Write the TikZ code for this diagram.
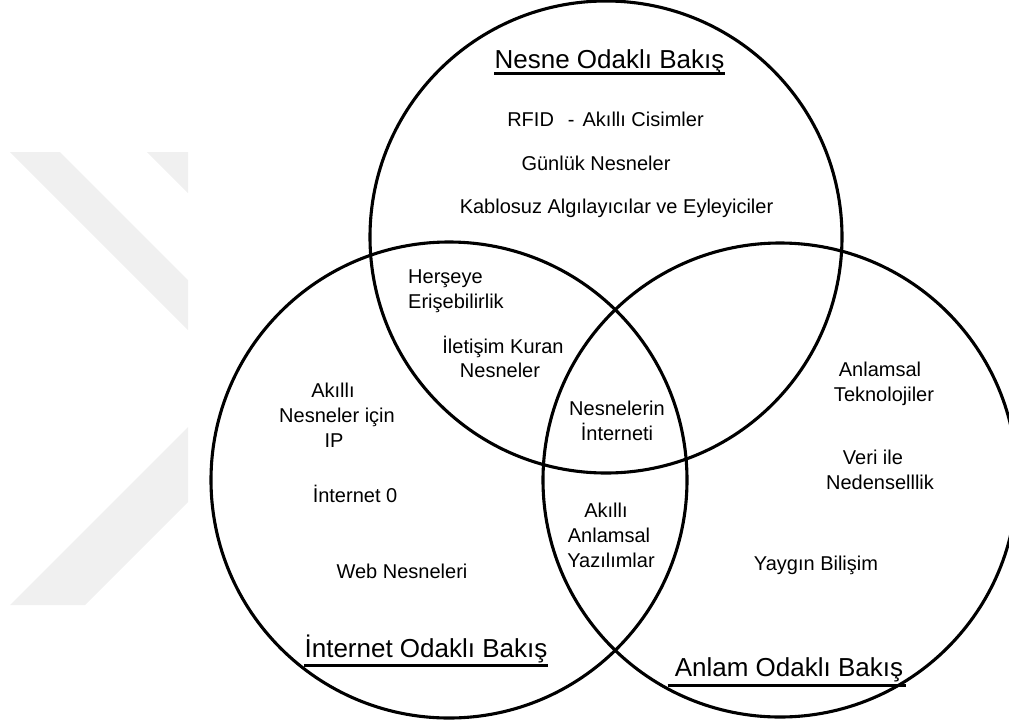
\documentclass[tikz,border=0pt]{standalone}
\usepackage{fontspec}
\setmainfont{Liberation Sans}
\begin{document}
\begin{tikzpicture}[x=1pt,y=-1pt,
  venn/.style={circle,draw=black,line width=3.1pt,minimum size=#1,inner sep=0pt},
  lbl/.style={font=\fontsize{20}{25}\selectfont,inner sep=0pt,anchor=base},
  lblw/.style={lbl,anchor=base west},
  ttl/.style={font=\fontsize{26}{30}\selectfont,inner sep=0pt,anchor=base},
  uline/.style={line width=3pt},
  wm/.style={fill=black!6,draw=none}]
\useasboundingbox (0,0) rectangle (1009,726);
% faint watermark
\fill[wm] (10,152) -- (60,152) -- (188,280) -- (188,330) -- cycle;
\fill[wm] (147,152) -- (188,152) -- (188,193) -- cycle;
\fill[wm] (188,427) -- (10,605) -- (85,605) -- (188,502) -- cycle;
% circles
\node[venn=472pt] (nesne) at (606,237) {};
\node[venn=476pt] (internet) at (449,480) {};
\node[venn=474pt] (anlam) at (780,480) {};
% titles
\node[ttl] (tn) at (609.5,68) {Nesne Odaklı Bakış};
\draw[uline] ([yshift=-5pt]tn.base west) -- ([yshift=-5pt]tn.base east);
\node[ttl] (ti) at (426,657) {İnternet Odaklı Bakış};
\draw[uline] ([yshift=-8pt]ti.base west) -- ([yshift=-8pt]ti.base east);
\node[ttl] (ta) at (789,676) {Anlam Odaklı Bakış};
\draw[uline] ([xshift=-7pt,yshift=-9pt]ta.base west) -- ([xshift=3pt,yshift=-9pt]ta.base east);
% top circle
\node[lbl] (rfid) at (605.5,126) {RFID\hspace{14pt}-\hspace{8pt}Akıllı Cisimler};
\node[lbl] (gun) at (596,170) {Günlük Nesneler};
\node[lbl] (kab) at (616.5,213) {Kablosuz Algılayıcılar ve Eyleyiciler};
% top & left
\node[lblw] (her1) at (408,283) {Herşeye};
\node[lblw] (her2) at (408,308) {Erişebilirlik};
\node[lbl] (ile1) at (503,353) {İletişim Kuran};
\node[lbl] (ile2) at (500,377) {Nesneler};
% left circle
\node[lbl] (ip1) at (333,397) {Akıllı};
\node[lbl] (ip2) at (337,422) {Nesneler için};
\node[lbl] (ip3) at (334,447) {IP};
\node[lbl] (i0) at (355,502) {İnternet 0};
\node[lbl] (web) at (402,578) {Web Nesneleri};
% centre
\node[lbl] (ni1) at (617,415) {Nesnelerin};
\node[lbl] (ni2) at (617,440) {İnterneti};
% left & right
\node[lbl] (aay1) at (606,517) {Akıllı};
\node[lbl] (aay2) at (609,542) {Anlamsal};
\node[lbl] (aay3) at (611,567) {Yazılımlar};
% right circle
\node[lbl] (at1) at (880,376) {Anlamsal};
\node[lbl] (at2) at (884,401) {Teknolojiler};
\node[lbl] (vn1) at (873,464) {Veri ile};
\node[lbl] (vn2) at (880,489) {Nedenselllik};
\node[lbl] (yb) at (816,570) {Yaygın Bilişim};
\end{tikzpicture}
\end{document}
